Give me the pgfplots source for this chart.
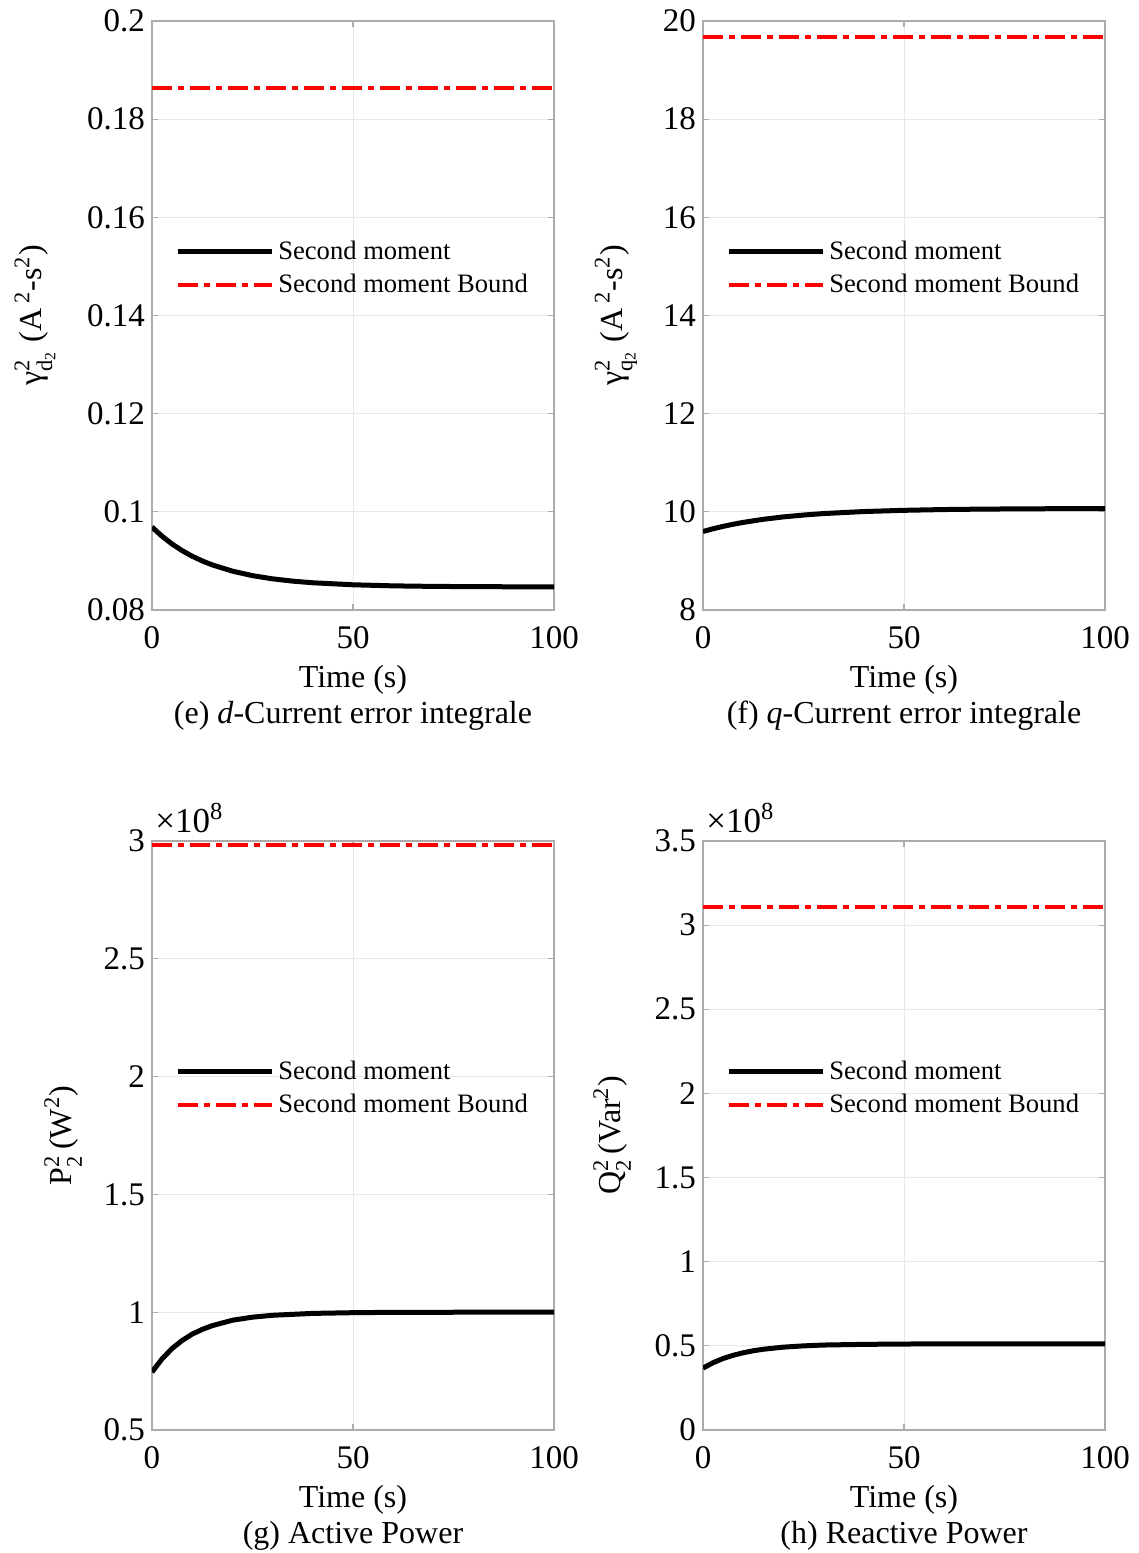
\documentclass[border=0pt]{standalone}
\usepackage{fontspec}
\setmainfont{Liberation Serif}
\usepackage{pgfplots}
\pgfplotsset{compat=1.18}
\definecolor{mred}{RGB}{255,0,0}
\newcommand{\supsubs}[2]{\rlap{\textsuperscript{#1}}\raisebox{-0.35ex}{\textsubscript{#2}}}
\tikzset{sclab/.style={anchor=south west, font=\fontsize{17.5}{18}\selectfont, inner sep=0pt, xshift=1.5pt, yshift=4pt}}
\pgfplotsset{
  legend image code/.code={\draw[#1] (0pt,0pt) -- (47pt,0pt);},
  myax/.style={
    scale only axis, width=201pt, height=294.5pt,
    xmin=0, xmax=100, xtick={0,50,100},
    clip mode=individual,
    grid=major, major grid style={gray!18, line width=0.4pt},
    axis line style={gray!65, line width=0.6pt},
    tick style={gray!65, line width=0.6pt}, tick align=inside, major tick length=3pt,
    tick label style={font=\fontsize{16.5}{18}\selectfont},
    label style={font=\fontsize{16}{18}\selectfont},
    xticklabel style={yshift=-4.5pt},
    /pgf/number format/assume math mode=true,
    scaled ticks=false,
    yticklabel style={/pgf/number format/fixed, /pgf/number format/precision=2},
    xlabel style={align=center, yshift=-1.5pt},
    legend style={draw=none, fill=none, font=\fontsize{13.3}{16}\selectfont,
      at={(0.057,0.634)}, anchor=north west, row sep=2pt, inner sep=0pt},
    legend cell align=left,
  },
  sm/.style={black, line width=2.5pt},
  bd/.style={mred, line width=2pt, dash pattern=on 10pt off 3pt on 3pt off 3pt},
}
\begin{document}
\begin{tikzpicture}
\useasboundingbox (0pt,0pt) rectangle (569.5pt,-776.5pt);
% (e)
\begin{axis}[myax, at={(76pt,-305pt)}, anchor=south west,
  ymin=0.08, ymax=0.2, ytick={0.08,0.1,0.12,0.14,0.16,0.18,0.2},
  xlabel={Time (s)\\(e) \textit{d}-Current error integrale},
  ylabel style={yshift=9pt},
  ylabel={γ\supsubs{2}{d\textsubscript{2}}\ (A\,\textsuperscript{2}-s\textsuperscript{2})}]
\addplot[sm] coordinates {(0,0.0969) (2.5,0.09503) (5,0.09344) (7.5,0.09210) (10,0.09096) (12.5,0.09000) (15,0.08919) (20,0.08792) (25,0.08700) (30,0.08635) (35,0.08588) (40,0.08555) (50,0.08514) (60,0.08492) (70,0.08481) (80,0.08476) (90,0.08473) (100,0.08472)};
\addlegendentry{Second moment}
\addplot[bd] coordinates {(0,0.1863) (100,0.1863)};
\addlegendentry{Second moment Bound}
\end{axis}
% (f)
\begin{axis}[myax, at={(351.5pt,-305pt)}, anchor=south west,
  ymin=8, ymax=20, ytick={8,10,12,14,16,18,20},
  xlabel={Time (s)\\(f) \textit{q}-Current error integrale},
  ylabel style={yshift=6pt},
  ylabel={γ\supsubs{2}{q\textsubscript{2}}\ (A\,\textsuperscript{2}-s\textsuperscript{2})}]
\addplot[sm] coordinates {(0,9.60) (2.5,9.655) (5,9.704) (7.5,9.747) (10,9.785) (15,9.848) (20,9.897) (25,9.935) (30,9.965) (40,10.006) (50,10.031) (60,10.047) (70,10.056) (80,10.061) (90,10.065) (100,10.067)};
\addlegendentry{Second moment}
\addplot[bd] coordinates {(0,19.67) (100,19.67)};
\addlegendentry{Second moment Bound}
\end{axis}
% (g)
\begin{axis}[myax, at={(76pt,-715pt)}, anchor=south west,
  ymin=0.5, ymax=3, ytick={0.5,1,1.5,2,2.5,3},
  xlabel={Time (s)\\(g) Active Power},
  ylabel style={yshift=4pt},
  ylabel={P\supsubs{2}{2}\,(W\textsuperscript{2})}]
\addplot[sm] coordinates {(0,0.746) (2.5,0.802) (5,0.846) (7.5,0.880) (10,0.907) (12.5,0.927) (15,0.943) (20,0.966) (25,0.979) (30,0.987) (40,0.995) (50,0.998) (60,0.9995) (80,1.0) (100,1.0)};
\addlegendentry{Second moment}
\addplot[bd] coordinates {(0,2.983) (100,2.983)};
\addlegendentry{Second moment Bound}
\node[sclab] at (rel axis cs:0,1) {×10\textsuperscript{8}};
\end{axis}
% (h)
\begin{axis}[myax, at={(351.5pt,-715pt)}, anchor=south west,
  ymin=0, ymax=3.5, ytick={0,0.5,1,1.5,2,2.5,3,3.5},
  xlabel={Time (s)\\(h) Reactive Power},
  ylabel style={yshift=5pt},
  ylabel={Q\supsubs{2}{2}\,(Var\textsuperscript{2})}]
\addplot[sm] coordinates {(0,0.368) (2.5,0.400) (5,0.425) (7.5,0.444) (10,0.459) (12.5,0.471) (15,0.480) (20,0.4925) (25,0.500) (30,0.505) (40,0.509) (50,0.511) (60,0.512) (100,0.512)};
\addlegendentry{Second moment}
\addplot[bd] coordinates {(0,3.108) (100,3.108)};
\addlegendentry{Second moment Bound}
\node[sclab] at (rel axis cs:0,1) {×10\textsuperscript{8}};
\end{axis}
\end{tikzpicture}
\end{document}
